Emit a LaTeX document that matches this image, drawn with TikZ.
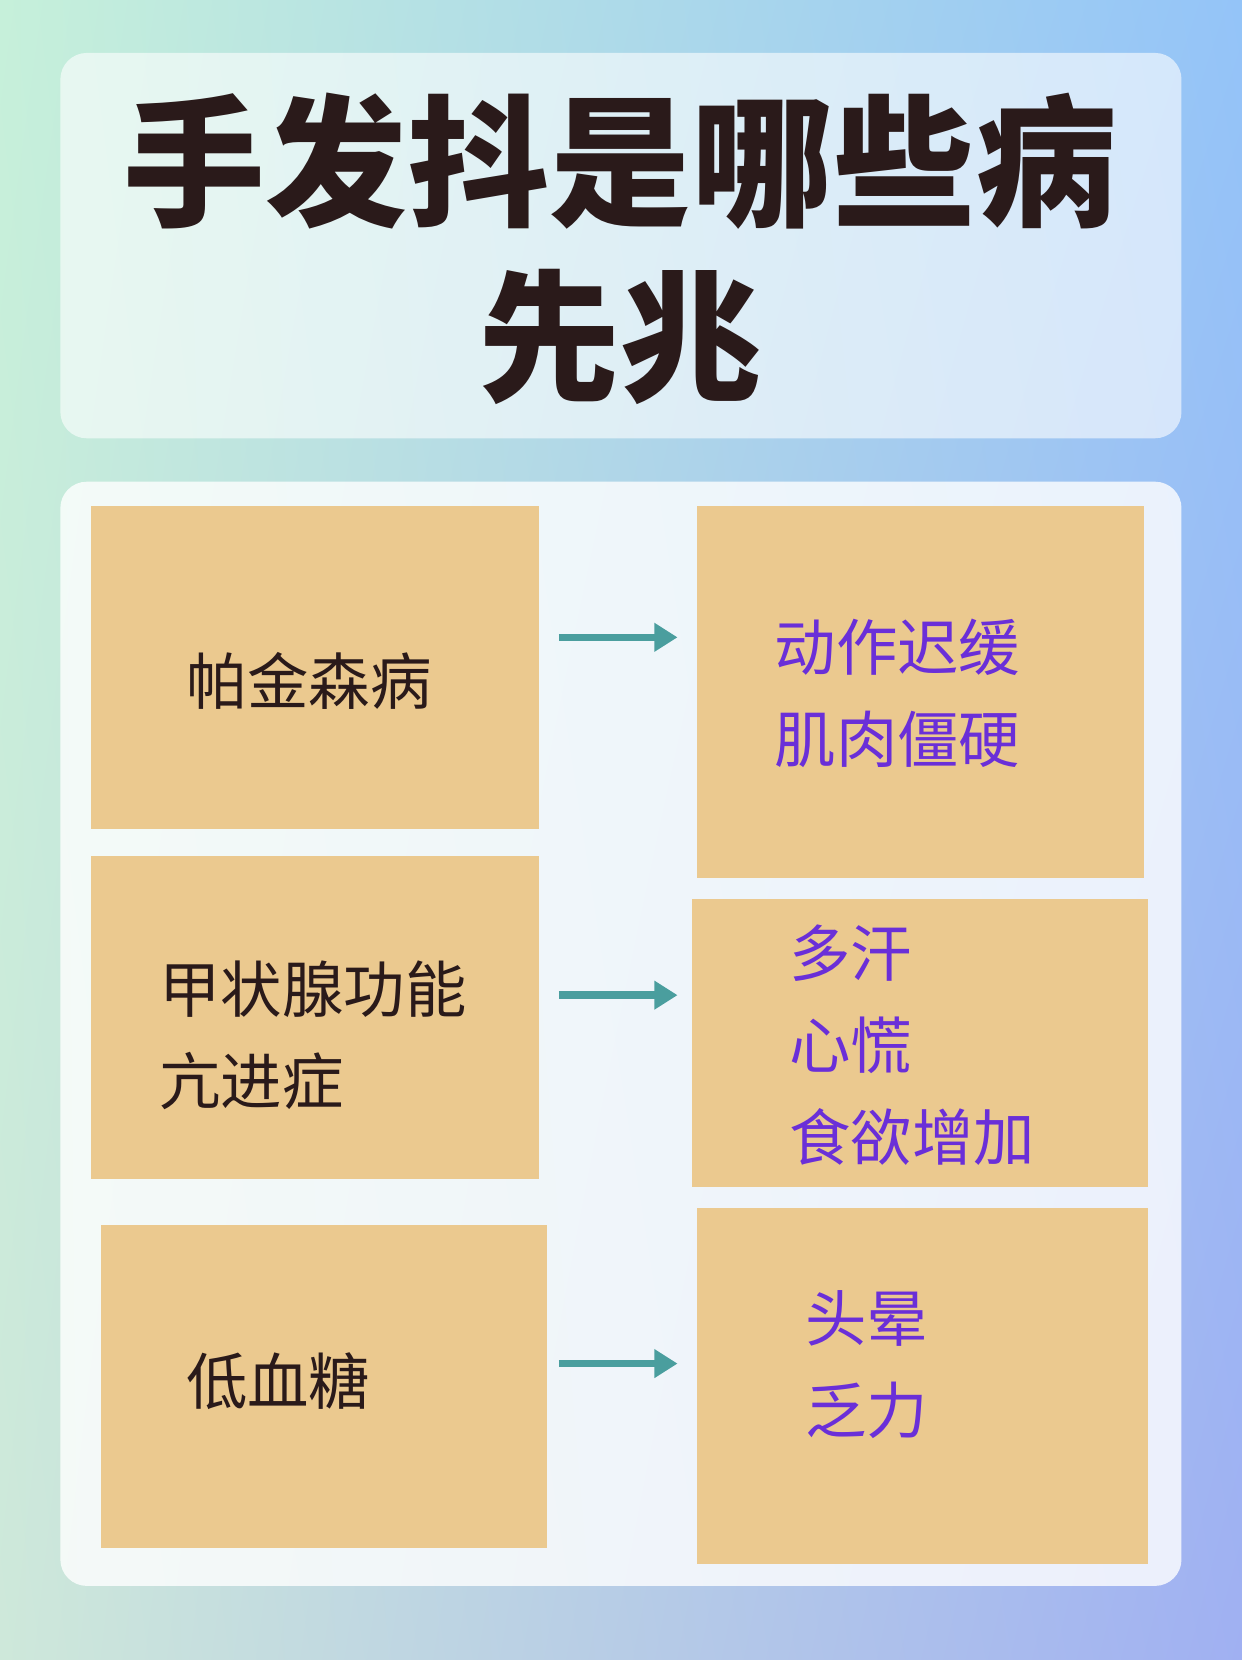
\documentclass[tikz,border=0pt]{standalone}
\usepackage{fontspec}
\newfontfamily\cjk{Noto Sans CJK SC}
\definecolor{boxfill}{HTML}{EBC98F}
\definecolor{symptom}{HTML}{6A2FD8}
\definecolor{disease}{HTML}{2A1A1A}
\definecolor{arrowteal}{HTML}{4A9E9E}
\definecolor{bgul}{HTML}{C6F0DA}
\definecolor{bgur}{HTML}{94C4F8}
\definecolor{bgll}{HTML}{CEE8DA}
\definecolor{bglr}{HTML}{A0B0F2}
\tikzset{every picture/.style={line width=0.75pt}}
\tikzset{
  panel/.style={fill=white, fill opacity=0.6, rounded corners=25pt},
  boxnode/.style={fill=boxfill},
  disname/.style={anchor=west, align=left, text=disease, font=\cjk\fontsize{58}{87}\selectfont},
  symname/.style={anchor=west, align=left, text=symptom, font=\cjk\fontsize{58}{87}\selectfont},
  linkarrow/.style={draw=arrowteal, line width=7pt, -{Triangle[length=22pt,width=26pt]}}
}
\usetikzlibrary{arrows.meta,shadings}
\begin{document}
\begin{tikzpicture}[x=1pt,y=1pt,yscale=-1]
	% background
	\shade[upper left=bgul, upper right=bgur, lower left=bgll, lower right=bglr]
	  (0,0) rectangle (1173,1568);
	\useasboundingbox (0,0) rectangle (1173,1568);

	% panels
	\fill[panel] (57,50) rectangle (1116,414);
	\fill[panel, fill opacity=0.8] (57,455) rectangle (1116,1498);

	% title
	\node[font=\cjk\bfseries\fontsize{134}{165}\selectfont, text=disease, align=center] (title) at (586,235) {手发抖是哪些病\\先兆};

	% boxes
	\fill[boxnode] (86,478) rectangle (509,783);
	\coordinate (L1) at (509,602);
	\fill[boxnode] (86,809) rectangle (509,1114);
	\coordinate (L2) at (509,940);
	\fill[boxnode] (95,1157) rectangle (517,1462);
	\coordinate (L3) at (517,1288);
	\fill[boxnode] (658,478) rectangle (1081,829);
	\coordinate (R1) at (658,602);
	\fill[boxnode] (654,849) rectangle (1084,1121);
	\coordinate (R2) at (654,940);
	\fill[boxnode] (658,1141) rectangle (1084,1477);
	\coordinate (R3) at (658,1288);

	% texts
	\node[disname] (d1) at (172,643) {帕金森病};
	\node[disname] (d2) at (147,978) {甲状腺功能\\亢进症};
	\node[disname] (d3) at (172,1305) {低血糖};
	\node[symname] (s1) at (728,655) {动作迟缓\\肌肉僵硬};
	\node[symname] (s2) at (742,987) {多汗\\心慌\\食欲增加};
	\node[symname] (s3) at (757,1289) {头晕\\乏力};

	% arrows
	\draw[linkarrow, shorten <=19pt, shorten >=18pt] (L1) -- (R1);
	\draw[linkarrow, shorten <=19pt, shorten >=14pt] (L2) -- (R2);
	\draw[linkarrow, shorten <=11pt, shorten >=18pt] (L3) -- (R3);
\end{tikzpicture}
\end{document}
